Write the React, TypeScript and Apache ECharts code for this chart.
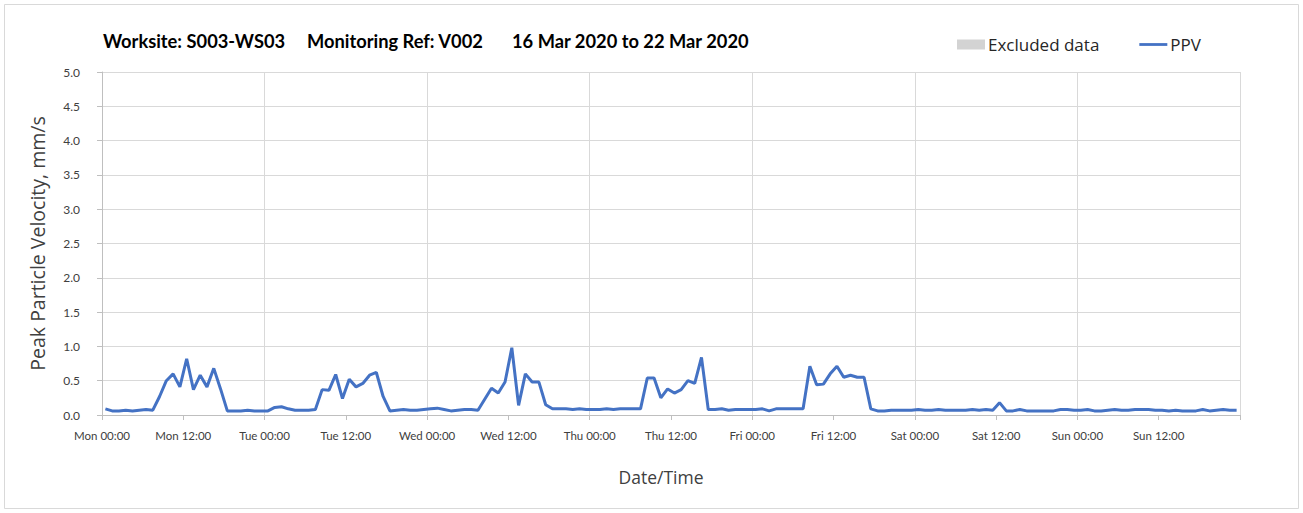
import React, { useEffect, useRef } from 'react';
import * as echarts from 'echarts';

const titleParts = ['Worksite: S003-WS03', 'Monitoring Ref: V002', '16 Mar 2020 to 22 Mar 2020'];
const legendNames = ['Excluded data', 'PPV'];
const tickLabels = [
  'Mon 00:00', 'Mon 12:00', 'Tue 00:00', 'Tue 12:00', 'Wed 00:00', 'Wed 12:00', 'Thu 00:00',
  'Thu 12:00', 'Fri 00:00', 'Fri 12:00', 'Sat 00:00', 'Sat 12:00', 'Sun 00:00', 'Sun 12:00',
];
const yAxisName = 'Peak Particle Velocity, mm/s';
const xAxisName = 'Date/Time';

// hourly PPV readings (mm/s), Mon 00:30 .. Sun 23:30
const ppvMon = [
  0.09, 0.06, 0.06, 0.07, 0.06, 0.07, 0.08, 0.07, 0.27, 0.50, 0.60, 0.41,
  0.82, 0.37, 0.58, 0.41, 0.68, 0.38, 0.06, 0.06, 0.06, 0.07, 0.06, 0.06,
];
const ppvTue = [
  0.06, 0.11, 0.12, 0.09, 0.07, 0.07, 0.07, 0.08, 0.37, 0.36, 0.59, 0.24,
  0.52, 0.41, 0.46, 0.58, 0.62, 0.27, 0.06, 0.07, 0.08, 0.07, 0.07, 0.08,
];
const ppvWed = [
  0.09, 0.10, 0.08, 0.06, 0.07, 0.08, 0.08, 0.07, 0.23, 0.39, 0.32, 0.48,
  0.98, 0.14, 0.60, 0.48, 0.48, 0.15, 0.09, 0.09, 0.09, 0.08, 0.09, 0.08,
];
const ppvThu = [
  0.08, 0.08, 0.09, 0.08, 0.09, 0.09, 0.09, 0.09, 0.54, 0.54, 0.25, 0.38,
  0.32, 0.37, 0.50, 0.46, 0.84, 0.08, 0.08, 0.09, 0.07, 0.08, 0.08, 0.08,
];
const ppvFri = [
  0.08, 0.09, 0.06, 0.09, 0.09, 0.09, 0.09, 0.09, 0.71, 0.44, 0.45, 0.60,
  0.71, 0.55, 0.58, 0.55, 0.55, 0.09, 0.06, 0.06, 0.07, 0.07, 0.07, 0.07,
];
const ppvSat = [
  0.08, 0.07, 0.07, 0.08, 0.07, 0.07, 0.07, 0.07, 0.08, 0.07, 0.08, 0.07,
  0.18, 0.06, 0.06, 0.08, 0.06, 0.06, 0.06, 0.06, 0.06, 0.08, 0.08, 0.07,
];
const ppvSun = [
  0.07, 0.08, 0.06, 0.06, 0.07, 0.08, 0.07, 0.07, 0.08, 0.08, 0.08, 0.07,
  0.07, 0.06, 0.07, 0.06, 0.06, 0.06, 0.08, 0.06, 0.07, 0.08, 0.07, 0.07,
];
const ppv = [...ppvMon, ...ppvTue, ...ppvWed, ...ppvThu, ...ppvFri, ...ppvSat, ...ppvSun];

const FONT = 'Lato';
const NAME_FONT = 'Open Sans';

export default function App() {
  const ref = useRef<HTMLDivElement>(null);
  useEffect(() => {
    const chart = echarts.init(ref.current!, null, { renderer: 'svg' });
    const data = ppv.map((v, i) => [i + 0.5, v]);
    const titleLeft = [103, 307, 512];
    chart.setOption({
      animation: false,
      backgroundColor: '#ffffff',
      textStyle: { fontFamily: FONT },
      title: titleParts.map((t, i) => ({
        text: t,
        left: titleLeft[i],
        top: 32,
        padding: 0,
        textStyle: { fontFamily: FONT, fontSize: 18.3, fontWeight: 'bold', color: '#000000' },
      })),
      legend: {
        left: 957,
        top: 36,
        padding: 0,
        itemWidth: 28,
        itemHeight: 10,
        itemGap: 40,
        textStyle: { fontFamily: NAME_FONT, fontSize: 17, color: '#262626', padding: [0, 0, 0, -2] },
        data: [
          { name: legendNames[0], icon: 'rect' },
          { name: legendNames[1], icon: 'path://M0,0 L30,0 L30,3 L0,3 Z' },
        ],
      },
      graphic: [
        {
          type: 'rect',
          shape: { x: 4.5, y: 4.5, width: 1294, height: 504 },
          style: { fill: 'none', stroke: '#d9d9d9', lineWidth: 1 },
          silent: true,
        },
      ],
      grid: { left: 102, right: 63, top: 72, bottom: 98 },
      xAxis: [
        {
          type: 'value',
          min: 0,
          max: 168,
          interval: 12,
          name: xAxisName,
          nameLocation: 'middle',
          nameGap: 53,
          nameTextStyle: {
            fontFamily: NAME_FONT,
            fontSize: 17.5,
            color: '#404040',
            padding: [0, 20, 0, 0],
          },
          axisLine: { show: true, lineStyle: { color: '#bfbfbf', width: 1 } },
          axisTick: { show: true, length: 5, lineStyle: { color: '#bfbfbf' } },
          axisLabel: {
            margin: 14,
            fontFamily: FONT,
            fontSize: 11.5,
            color: '#404040',
            formatter: (v: number) => tickLabels[Math.round(v / 12)] ?? '',
          },
          splitLine: { show: false },
        },
        {
          type: 'value',
          min: 0,
          max: 168,
          interval: 24,
          position: 'bottom',
          axisLine: { show: false },
          axisTick: { show: false },
          axisLabel: { show: false },
          splitLine: { show: true, lineStyle: { color: '#d9d9d9', width: 1 } },
        },
      ],
      yAxis: {
        type: 'value',
        min: 0,
        max: 5,
        interval: 0.5,
        name: yAxisName,
        nameLocation: 'middle',
        nameGap: 55,
        nameTextStyle: { fontFamily: NAME_FONT, fontSize: 19.5, color: '#404040' },
        axisLine: { show: true, lineStyle: { color: '#bfbfbf', width: 1 } },
        axisTick: { show: true, length: 5, lineStyle: { color: '#bfbfbf' } },
        axisLabel: {
          margin: 22,
          fontFamily: FONT,
          fontSize: 12,
          color: '#404040',
          formatter: (v: number) => v.toFixed(1),
        },
        splitLine: { show: true, lineStyle: { color: '#d9d9d9', width: 1 } },
      },
      series: [
        {
          name: legendNames[0],
          type: 'bar',
          xAxisIndex: 0,
          data: [],
          itemStyle: { color: '#d3d3d3' },
        },
        {
          name: legendNames[1],
          type: 'line',
          xAxisIndex: 0,
          data,
          symbol: 'none',
          showSymbol: false,
          lineStyle: { color: '#4472c4', width: 3 },
          itemStyle: { color: '#4472c4' },
        },
      ],
    });
    return () => chart.dispose();
  }, []);
  return (
    <div
      ref={ref}
      style={{ position: 'fixed', left: 0, top: 0, width: 1303, height: 513, background: '#fff' }}
    />
  );
}
